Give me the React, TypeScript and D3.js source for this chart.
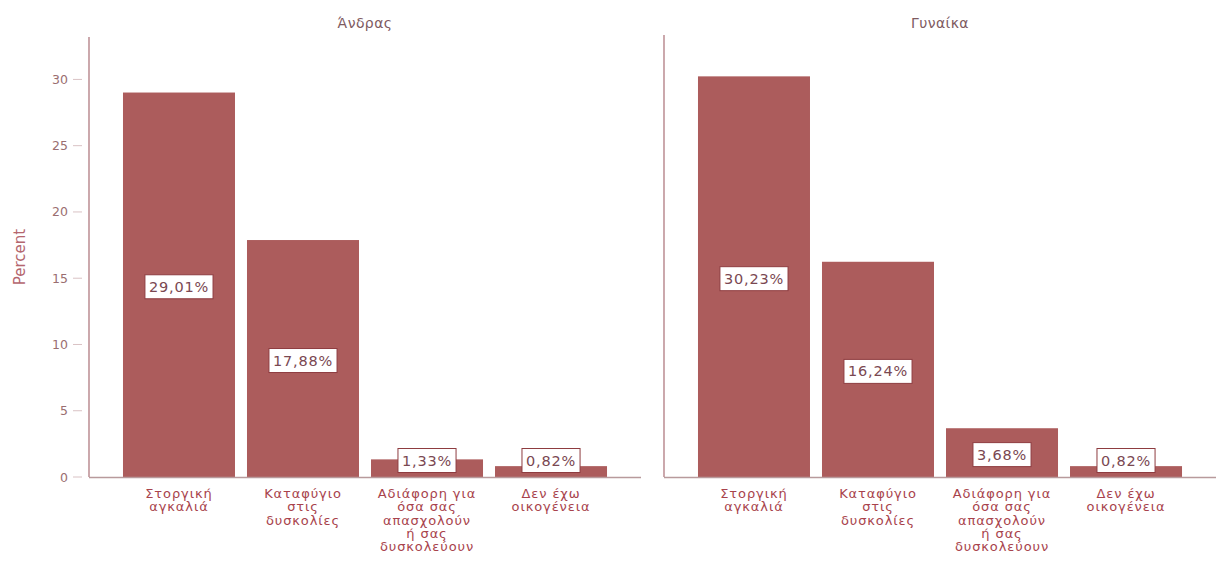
import React, { useEffect, useRef } from "react";
import * as d3 from "d3";

const panelTitles = ["Άνδρας", "Γυναίκα"];
const categories = [
  "Στοργική αγκαλιά",
  "Καταφύγιο στις δυσκολίες",
  "Αδιάφορη για όσα σας απασχολούν ή σας δυσκολεύουν",
  "Δεν έχω οικογένεια",
];
const categoryLines = [
  ["Στοργική", "αγκαλιά"],
  ["Καταφύγιο", "στις", "δυσκολίες"],
  ["Αδιάφορη για", "όσα σας", "απασχολούν", "ή σας", "δυσκολεύουν"],
  ["Δεν έχω", "οικογένεια"],
];
const menValues = [29.01, 17.88, 1.33, 0.82];
const womenValues = [30.23, 16.24, 3.68, 0.82];
const yTicks = [0, 5, 10, 15, 20, 25, 30];
const yAxisTitle = "Percent";

const W = 1217;
const H = 563;
const FONT = "'DejaVu Sans', Verdana, sans-serif";

export default function App() {
  const ref = useRef<SVGSVGElement | null>(null);

  useEffect(() => {
    const svg = d3.select(ref.current);
    svg.selectAll("*").remove();

    const baseY = 477;
    const y = d3.scaleLinear().domain([0, 33.2]).range([baseY, 37]);

    const panels = [
      { title: panelTitles[0], values: menValues, x0: 89, x1: 641, axisTop: 37, labels: true },
      { title: panelTitles[1], values: womenValues, x0: 664, x1: 1216, axisTop: 35, labels: false },
    ];

    svg
      .append("text")
      .attr("transform", `translate(25,257) rotate(-90)`)
      .attr("text-anchor", "middle")
      .attr("font-family", FONT)
      .attr("font-size", 15)
      .attr("fill", "#b4666e")
      .text(yAxisTitle);

    panels.forEach((p) => {
      const g = svg.append("g");
      const x = d3
        .scaleBand<string>()
        .domain(categories)
        .range([p.x0, p.x1])
        .paddingInner(12 / 124)
        .paddingOuter(0.274);

      g.append("text")
        .attr("x", (p.x0 + p.x1) / 2)
        .attr("y", 28)
        .attr("text-anchor", "middle")
        .attr("font-family", FONT)
        .attr("font-size", 14)
        .attr("letter-spacing", 0.4)
        .attr("fill", "#7e5a5f")
        .text(p.title);

      g.selectAll("rect.bar")
        .data(p.values)
        .enter()
        .append("rect")
        .attr("class", "bar")
        .attr("x", (_d, i) => x(categories[i]) as number)
        .attr("width", x.bandwidth())
        .attr("y", (d) => y(d))
        .attr("height", (d) => baseY - y(d))
        .attr("fill", "#ac5c5c");

      g.append("line")
        .attr("x1", p.x0)
        .attr("x2", p.x0)
        .attr("y1", p.axisTop)
        .attr("y2", baseY)
        .attr("stroke", "#b07a80")
        .attr("stroke-width", 1.3);

      g.append("line")
        .attr("x1", p.x0)
        .attr("x2", p.x1)
        .attr("y1", baseY + 0.5)
        .attr("y2", baseY + 0.5)
        .attr("stroke", "#b89a9c")
        .attr("stroke-width", 1.3);

      if (p.labels) {
        yTicks.forEach((t) => {
          g.append("line")
            .attr("x1", 73)
            .attr("x2", 82)
            .attr("y1", y(t))
            .attr("y2", y(t))
            .attr("stroke", "#d9c2c4")
            .attr("stroke-width", 1);
          g.append("text")
            .attr("x", 68)
            .attr("y", y(t) + 4.5)
            .attr("text-anchor", "end")
            .attr("font-family", FONT)
            .attr("font-size", 12.5)
            .attr("fill", "#9a6e70")
            .text(String(t));
        });
      }

      categoryLines.forEach((lines, i) => {
        const cx = (x(categories[i]) as number) + x.bandwidth() / 2;
        const t = g
          .append("text")
          .attr("text-anchor", "middle")
          .attr("font-family", FONT)
          .attr("font-size", 13)
          .attr("letter-spacing", 0.9)
          .attr("fill", "#a8434c");
        lines.forEach((ln, j) => {
          t.append("tspan")
            .attr("x", cx)
            .attr("y", 498 + j * 13.3)
            .text(ln);
        });
      });

      p.values.forEach((v, i) => {
        const cx = (x(categories[i]) as number) + x.bandwidth() / 2;
        const mid = (y(v) + baseY) / 2;
        const cy = Math.min(mid + 2, baseY - 16.5);
        const lg = g.append("g");
        const rect = lg.append("rect");
        const txt = lg
          .append("text")
          .attr("x", cx)
          .attr("y", cy + 5)
          .attr("text-anchor", "middle")
          .attr("font-family", FONT)
          .attr("font-size", 14.5)
          .attr("letter-spacing", 0.8)
          .attr("fill", "#7a4852")
          .text(v.toFixed(2).replace(".", ",") + "%");
        const bb = (txt.node() as SVGTextElement).getBBox();
        const bw = bb.width + 8;
        rect
          .attr("x", cx - bw / 2)
          .attr("y", cy - 12)
          .attr("width", bw)
          .attr("height", 24)
          .attr("fill", "#ffffff")
          .attr("stroke", "#8e3c40")
          .attr("stroke-width", 1);
      });
    });
  }, []);

  return (
    <svg
      ref={ref}
      width={W}
      height={H}
      style={{ position: "absolute", left: 0, top: 0, background: "#ffffff" }}
    />
  );
}
